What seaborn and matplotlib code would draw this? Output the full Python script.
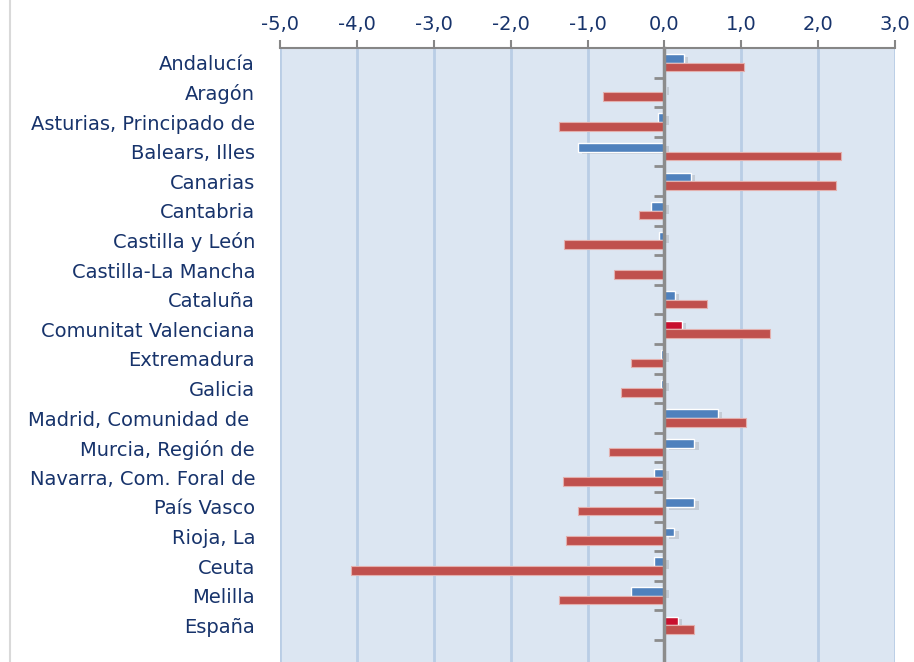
import pandas as pd
import matplotlib.pyplot as plt
import matplotlib.patheffects as pe
from matplotlib.lines import Line2D
import seaborn as sns

# Datos
regiones = ["Andalucía", "Aragón", "Asturias, Principado de", "Balears, Illes", "Canarias",
            "Cantabria", "Castilla y León", "Castilla-La Mancha", "Cataluña",
            "Comunitat Valenciana", "Extremadura", "Galicia", "Madrid, Comunidad de ",
            "Murcia, Región de", "Navarra, Com. Foral de", "País Vasco", "Rioja, La",
            "Ceuta", "Melilla", "España"]
serie_1 = [0.25, -0.02, -0.08, -1.13, 0.35, -0.17, -0.07, 0.0, 0.14, 0.23,
           -0.05, -0.04, 0.70, 0.39, -0.13, 0.39, 0.13, -0.14, -0.43, 0.18]
serie_2 = [1.04, -0.80, -1.37, 2.30, 2.23, -0.33, -1.30, -0.66, 0.56, 1.37,
           -0.43, -0.56, 1.06, -0.72, -1.32, -1.13, -1.28, -4.08, -1.37, 0.39]
destacados = ["Comunitat Valenciana", "España"]
xticks = [-5, -4, -3, -2, -1, 0, 1, 2, 3]
xtick_labels = ["-5,0", "-4,0", "-3,0", "-2,0", "-1,0", "0,0", "1,0", "2,0", "3,0"]

df = pd.DataFrame({
    "region": regiones * 2,
    "valor": serie_1 + serie_2,
    "serie": ["s1"] * len(regiones) + ["s2"] * len(regiones),
})

sns.set_style("white")
plt.rcParams["font.family"] = ["DejaVu Sans"]

azul = "#4F81BD"
rojo = "#C0504D"
carmesi = "#C8102E"
texto = "#17336B"
gris = "#8C8C8C"

fig = plt.figure(figsize=(9.14, 6.62), dpi=100)
ax = fig.add_axes([280 / 914, 0, 615 / 914, 1 - 48 / 662])
ax.set_facecolor("#DCE6F2")

sns.barplot(data=df, x="valor", y="region", hue="serie", orient="h",
            palette=[azul, rojo], saturation=1, width=0.58, legend=False,
            ax=ax, zorder=3)

sombra = [pe.SimplePatchShadow(offset=(3, -2), shadow_rgbFace="#666666", alpha=0.2),
          pe.Normal()]
for i, p in enumerate(ax.containers[0]):
    p.set_path_effects(sombra)
    if regiones[i] in destacados:
        p.set_facecolor(carmesi)
for p in ax.containers[1]:
    p.set_edgecolor("#E3AFAD")
    p.set_linewidth(0.8)

alto_cat = 29.6
ax.set_ylim(-0.5 + (662 - 48) / alto_cat, -0.5)
ax.set_xlim(-5, 3)

ax.xaxis.tick_top()
ax.set_xticks(xticks, labels=xtick_labels)
ax.tick_params(axis="x", top=True, length=6, width=1.5, color="#868686",
               labelsize=14, labelcolor=texto, pad=4)
ax.set_xlabel("")
ax.set_ylabel("")
ax.grid(axis="x", color="#B9CDE5", linewidth=2, zorder=0)
ax.set_axisbelow(True)

# eje vertical en el cero con marcas entre categorías
ax.spines["left"].set_position(("data", 0))
ax.spines["left"].set_color(gris)
ax.spines["left"].set_linewidth(2.5)
ax.spines["left"].set_zorder(4)
ax.set_yticks([])
ax.set_yticks([i + 0.5 for i in range(len(regiones))], minor=True)
ax.tick_params(axis="y", which="minor", left=True, length=7, width=2, color=gris)
for s in ["right", "bottom"]:
    ax.spines[s].set_visible(False)
ax.spines["top"].set_color("#868686")
ax.spines["top"].set_linewidth(1.5)

# nombres de las regiones a la izquierda del área de trazado
etiquetas = ax.secondary_yaxis("left")
etiquetas.set_yticks(range(len(regiones)), labels=regiones)
etiquetas.tick_params(length=0, labelsize=14, labelcolor=texto, pad=18)
etiquetas.spines["left"].set_visible(False)

fig.add_artist(Line2D([10 / 914, 10 / 914], [0, 1], color="#D9D9D9", linewidth=1.5))

fig.savefig("out.png", dpi=100)
